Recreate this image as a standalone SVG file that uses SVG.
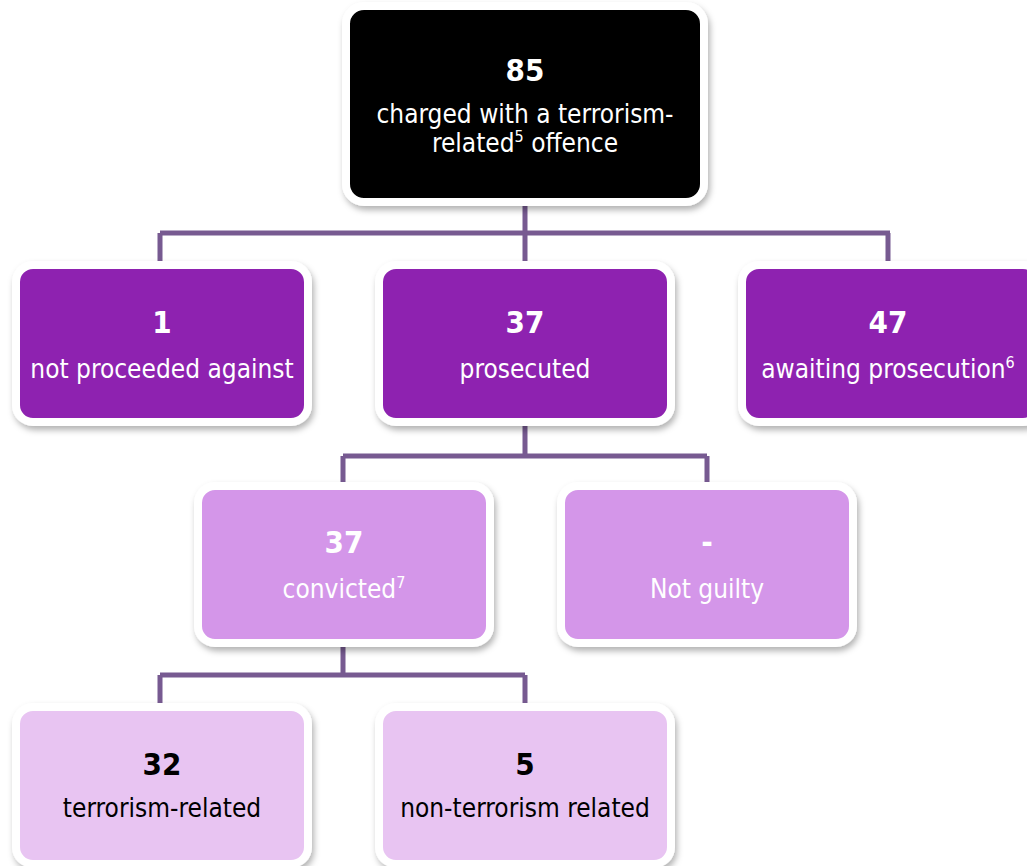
<svg xmlns="http://www.w3.org/2000/svg" width="1027" height="866" viewBox="0 0 1027 866">
<defs>
<filter id="sh" x="-10%" y="-10%" width="130%" height="140%">
<feDropShadow dx="2" dy="4" stdDeviation="3" flood-color="#000" flood-opacity="0.3"/>
</filter>
</defs>
<style>
.box{stroke:#fff;stroke-width:8;filter:url(#sh)}
.k{fill:#000}
.p{fill:#8e23b0}
.m{fill:#d496e9}
.l{fill:#e8c4f2}
.c{fill:none;stroke:#775a91;stroke-width:5}
text{font-family:'DejaVu Sans Condensed','DejaVu Sans',sans-serif;text-anchor:middle}
.n{font-weight:bold;font-size:31px}
.t{font-size:26px}
.w{fill:#fff}
.b{fill:#000}
</style>
<rect width="1027" height="866" fill="#fff"/>
<g id="connectors">
<path class="c" d="M525 200V233M160 233H890M160 233V266M525 233V266M888 233V266"/>
<path class="c" d="M525 420V456M343 456H707M343 456V488M707 456V488"/>
<path class="c" d="M343 641V675M160 675H525M160 675V709M525 675V709"/>
</g>
<g id="n85">
<rect class="box k" x="346" y="6" width="358" height="196" rx="18"/>
<text class="n w" x="525" y="81">85</text>
<text class="t w" x="525" y="123">charged with a terrorism-</text>
<text class="t w" x="525" y="152">related<tspan font-size="16" dy="-10">5</tspan><tspan dy="10"> offence</tspan></text>
</g>
<g id="n1">
<rect class="box p" x="16" y="265" width="292" height="157" rx="17"/>
<text class="n w" x="162" y="333">1</text>
<text class="t w" x="162" y="378">not proceeded against</text>
</g>
<g id="n37p">
<rect class="box p" x="379" y="265" width="292" height="157" rx="17"/>
<text class="n w" x="525" y="333">37</text>
<text class="t w" x="525" y="378">prosecuted</text>
</g>
<g id="n47">
<rect class="box p" x="742" y="265" width="298" height="157" rx="17"/>
<text class="n w" x="888" y="333">47</text>
<text class="t w" x="888" y="378">awaiting prosecution<tspan font-size="16" dy="-10">6</tspan></text>
</g>
<g id="n37c">
<rect class="box m" x="198" y="486" width="292" height="157" rx="17"/>
<text class="n w" x="344" y="553">37</text>
<text class="t w" x="344" y="598">convicted<tspan font-size="16" dy="-10">7</tspan></text>
</g>
<g id="nng">
<rect class="box m" x="561" y="486" width="292" height="157" rx="17"/>
<text class="n w" x="707" y="553">-</text>
<text class="t w" x="707" y="598">Not guilty</text>
</g>
<g id="n32">
<rect class="box l" x="16" y="707" width="292" height="157" rx="17"/>
<text class="n b" x="162" y="775">32</text>
<text class="t b" x="162" y="817">terrorism-related</text>
</g>
<g id="n5">
<rect class="box l" x="379" y="707" width="292" height="157" rx="17"/>
<text class="n b" x="525" y="775">5</text>
<text class="t b" x="525" y="817">non-terrorism related</text>
</g>
</svg>
